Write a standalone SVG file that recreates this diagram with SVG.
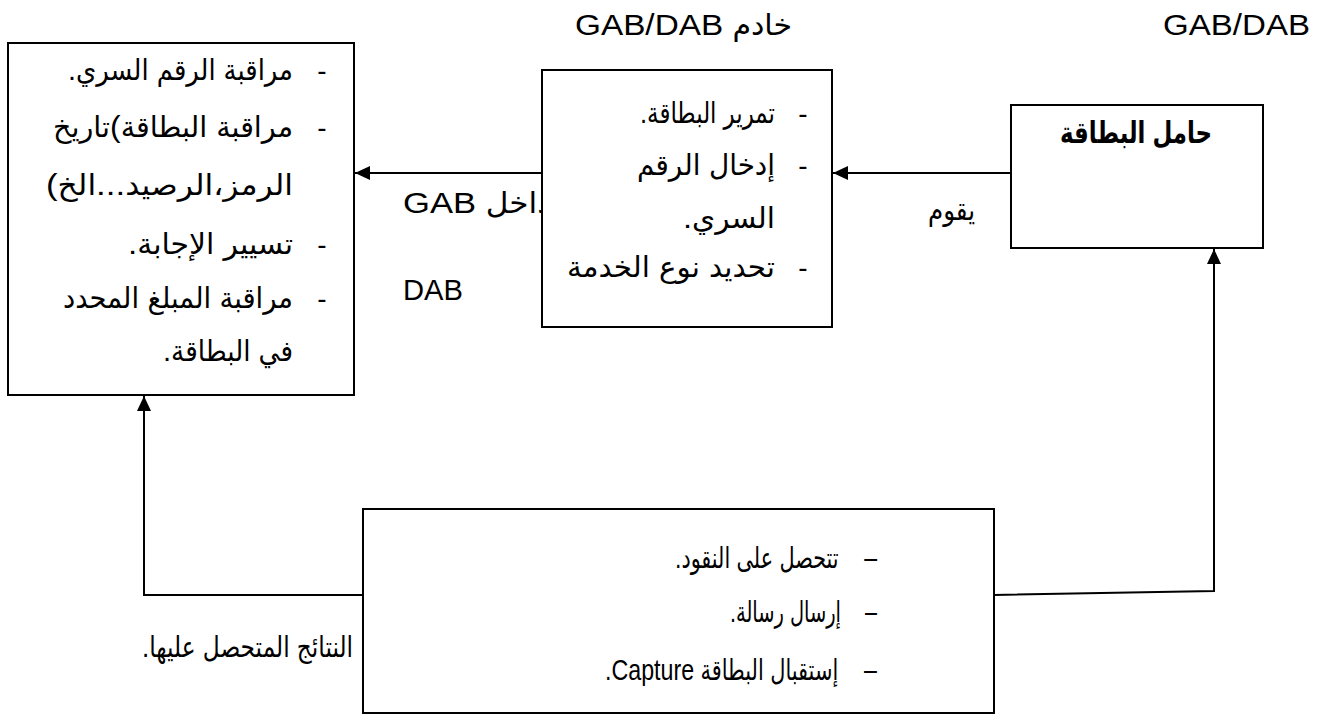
<svg xmlns="http://www.w3.org/2000/svg" width="1325" height="715" viewBox="0 0 1325 715">
  <style>
    .box { fill: #ffffff; stroke: #000000; stroke-width: 2; }
    .wire { fill: none; stroke: #000000; stroke-width: 2; }
    text { font-family: "Liberation Sans", "DejaVu Sans", Arial, sans-serif; font-size: 29px; fill: #000000; }
    .ar { direction: rtl; text-anchor: start; font-stretch: condensed; }
    .lat { text-anchor: start; }
    .dash { text-anchor: middle; font-size: 28px; }
    .bold { font-weight: bold; font-size: 30px; }
    .keep { direction: ltr; unicode-bidi: bidi-override; }
  </style>
  <defs>
    <marker id="arrow" markerUnits="userSpaceOnUse" markerWidth="15" markerHeight="14" refX="15" refY="7" orient="auto">
      <path d="M0,0 L15,7 L0,14 z" fill="#000000"/>
    </marker>
  </defs>

  <!-- free-standing titles -->
  <text id="title-server" class="ar" x="792" y="35" textLength="217" lengthAdjust="spacingAndGlyphs">خادم GAB/DAB</text>
  <text id="title-atm" class="lat" x="1163" y="35" textLength="147" lengthAdjust="spacingAndGlyphs">GAB/DAB</text>

  <!-- connectors and their labels (drawn under the boxes) -->
  <g id="connectors">
    <text class="ar" x="551" y="213" textLength="148" lengthAdjust="spacingAndGlyphs">داخل GAB</text>
    <text class="lat" x="403" y="300" textLength="60" lengthAdjust="spacingAndGlyphs">DAB</text>
    <text class="ar" x="975" y="220" textLength="47" lengthAdjust="spacingAndGlyphs">يقوم</text>
    <text class="ar" x="353" y="657" textLength="211" lengthAdjust="spacingAndGlyphs">النتائج المتحصل عليها.</text>

    <line class="wire" x1="1011" y1="173" x2="833" y2="173" marker-end="url(#arrow)"/>
    <line class="wire" x1="542" y1="173" x2="355" y2="173" marker-end="url(#arrow)"/>
    <polyline class="wire" points="363,595 144,595 144,396" marker-end="url(#arrow)"/>
    <polyline class="wire" points="994,595 1214,591 1214,249" marker-end="url(#arrow)"/>
  </g>

  <!-- checks performed by the bank server -->
  <g id="node-checks">
    <rect class="box" x="8" y="43" width="346" height="352"/>
    <text class="dash" x="322" y="80">-</text>
    <text class="ar" x="293" y="80" textLength="225" lengthAdjust="spacingAndGlyphs">مراقبة الرقم السري.</text>
    <text class="dash" x="322" y="137">-</text>
    <text class="ar" x="293" y="137" textLength="240" lengthAdjust="spacingAndGlyphs">مراقبة البطاقة<tspan class="keep">(</tspan>تاريخ</text>
    <text class="ar" x="293" y="195" textLength="247" lengthAdjust="spacingAndGlyphs">الرمز،الرصيد...الخ)</text>
    <text class="dash" x="322" y="254">-</text>
    <text class="ar" x="293" y="254" textLength="165" lengthAdjust="spacingAndGlyphs">تسيير الإجابة.</text>
    <text class="dash" x="322" y="308">-</text>
    <text class="ar" x="293" y="308" textLength="230" lengthAdjust="spacingAndGlyphs">مراقبة المبلغ المحدد</text>
    <text class="ar" x="293" y="361" textLength="130" lengthAdjust="spacingAndGlyphs">في البطاقة.</text>
  </g>

  <!-- actions at the cash machine -->
  <g id="node-atm">
    <rect class="box" x="542" y="70" width="290" height="257"/>
    <text class="dash" x="803" y="123">-</text>
    <text class="ar" x="775" y="123" textLength="135" lengthAdjust="spacingAndGlyphs">تمرير البطاقة.</text>
    <text class="dash" x="803" y="175">-</text>
    <text class="ar" x="775" y="175" textLength="138" lengthAdjust="spacingAndGlyphs">إدخال الرقم</text>
    <text class="ar" x="775" y="228" textLength="92" lengthAdjust="spacingAndGlyphs">السري.</text>
    <text class="dash" x="803" y="277">-</text>
    <text class="ar" x="775" y="277" textLength="208" lengthAdjust="spacingAndGlyphs">تحديد نوع الخدمة</text>
  </g>

  <!-- card holder -->
  <g id="node-holder">
    <rect class="box" x="1011" y="105" width="252" height="143"/>
    <text class="ar bold" x="1212" y="143" textLength="152" lengthAdjust="spacingAndGlyphs">حامل البطاقة</text>
  </g>

  <!-- results returned to the card holder (bullet dash kept in the line) -->
  <g id="node-results">
    <rect class="box" x="363" y="509" width="631" height="204"/>
    <text class="ar" x="877" y="568" textLength="202" lengthAdjust="spacingAndGlyphs">–&#xA0;&#xA0;&#xA0;&#xA0;تتحصل على النقود.</text>
    <text class="ar" x="877" y="622" textLength="147" lengthAdjust="spacingAndGlyphs">–&#xA0;&#xA0;&#xA0;&#xA0;إرسال رسالة.</text>
    <text class="ar" x="877" y="680" textLength="272" lengthAdjust="spacingAndGlyphs">–&#xA0;&#xA0;&#xA0;&#xA0;إستقبال البطاقة Capture.</text>
  </g>
</svg>
